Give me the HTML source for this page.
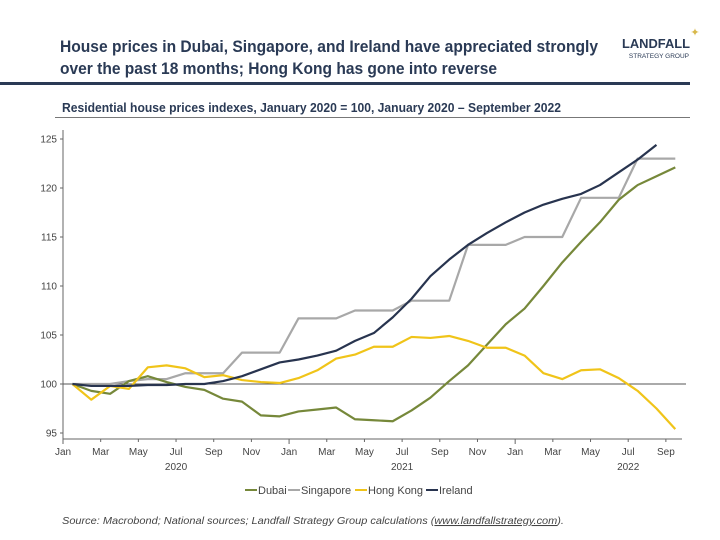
<!DOCTYPE html>
<html><head><meta charset="utf-8"><style>
body{margin:0;background:#fff;font-family:"Liberation Sans",sans-serif;}
#wrap{position:relative;width:720px;height:540px;overflow:hidden;}
</style></head><body>
<div id="wrap">
<svg id="c" width="720" height="540">
  <text x="60" y="52" font-size="16.5" font-weight="bold" fill="#2a3a55" textLength="538" lengthAdjust="spacingAndGlyphs">House prices in Dubai, Singapore, and Ireland have appreciated strongly</text>
  <text x="60" y="74" font-size="16.5" font-weight="bold" fill="#2a3a55" textLength="437" lengthAdjust="spacingAndGlyphs">over the past 18 months; Hong Kong has gone into reverse</text>
  <g>
    <text x="690" y="48" font-size="12.5" font-weight="bold" fill="#2a3a55" text-anchor="end" textLength="68" lengthAdjust="spacingAndGlyphs">LANDFALL</text>
    <text x="689" y="58" font-size="6.5" fill="#2a3a55" text-anchor="end">STRATEGY GROUP</text>
    <text x="695" y="36" font-size="11" fill="#d8b84a" text-anchor="middle">✦</text>
  </g>
  <rect x="0" y="82" width="690" height="3" fill="#2a3a55"/>
  <text x="62" y="112" font-size="12.5" font-weight="bold" fill="#2a3a55" textLength="499" lengthAdjust="spacingAndGlyphs">Residential house prices indexes, January 2020 = 100, January 2020 – September 2022</text>
  <rect x="55" y="117" width="635" height="1" fill="#777"/>
  <g id="axes"></g>
  <g id="series"></g>
  <g font-size="11" fill="#444">
    <g><rect x="245" y="489" width="12" height="2" fill="#76883a"/><text x="258" y="494">Dubai</text></g>
    <g><rect x="288" y="489" width="12" height="2" fill="#a8a8a8"/><text x="301" y="494">Singapore</text></g>
    <g><rect x="355" y="489" width="12" height="2" fill="#f0c419"/><text x="368" y="494">Hong Kong</text></g>
    <g><rect x="426" y="489" width="12" height="2" fill="#28344f"/><text x="439" y="494">Ireland</text></g>
  </g>
  <text x="62" y="524" font-size="10.5" font-style="italic" fill="#444" textLength="502" lengthAdjust="spacingAndGlyphs">Source: Macrobond; National sources; Landfall Strategy Group calculations (<tspan text-decoration="underline">www.landfallstrategy.com</tspan>).</text>
</svg>
</div>
<script>
const monthTicks=["Jan","Mar","May","Jul","Sep","Nov","Jan","Mar","May","Jul","Sep","Nov","Jan","Mar","May","Jul","Sep"];
const yearLabels=["2020","2021","2022"];
const yTicks=[95,100,105,110,115,120,125];
const dubai=[100,99.3,99.0,100.3,100.8,100.2,99.7,99.4,98.5,98.2,96.8,96.7,97.2,97.4,97.6,96.4,96.3,96.2,97.3,98.6,100.3,101.9,104.0,106.1,107.7,110.0,112.4,114.5,116.5,118.8,120.3,121.2,122.1];
const singapore=[100,100,100,100.3,100.5,100.5,101.1,101.1,101.1,103.2,103.2,103.2,106.7,106.7,106.7,107.5,107.5,107.5,108.5,108.5,108.5,114.2,114.2,114.2,115,115,115,119,119,119,123,123,123];
const hongKong=[100,98.4,99.8,99.5,101.7,101.9,101.6,100.7,100.9,100.4,100.2,100.1,100.6,101.4,102.6,103.0,103.8,103.8,104.8,104.7,104.9,104.4,103.7,103.7,102.9,101.1,100.5,101.4,101.5,100.6,99.3,97.5,95.4];
const ireland=[100,99.8,99.8,99.8,99.9,99.9,100.0,100.0,100.3,100.8,101.5,102.2,102.5,102.9,103.4,104.4,105.2,106.8,108.7,111.0,112.7,114.2,115.4,116.5,117.5,118.3,118.9,119.4,120.3,121.6,122.9,124.4];

const NS="http://www.w3.org/2000/svg";
const x0=63,pxM=18.84,yBase=384,pxU=9.8;
const xM=i=>x0+pxM*(i+0.5);
const xTick=i=>x0+pxM*i;
const yV=v=>yBase-(v-100)*pxU;
function mk(tag,attrs,parent){const e=document.createElementNS(NS,tag);for(const k in attrs)e.setAttribute(k,attrs[k]);parent.appendChild(e);return e;}
const ax=document.getElementById('axes');
const l1=mk('line',{x1:x0,y1:130,x2:x0,y2:439,stroke:'#666','stroke-width':1},ax);


const l2=mk('line',{x1:x0,y1:439,x2:682,y2:439,stroke:'#666','stroke-width':1},ax);


const l3=mk('line',{x1:x0,y1:yV(100),x2:686,y2:yV(100),stroke:'#555','stroke-width':1},ax);


yTicks.forEach(v=>{
  const t=mk('text',{x:57,y:yV(v)+3.5,'font-size':10,fill:'#444','text-anchor':'end'},ax);t.textContent=v;
  
  
  const tk=mk('line',{x1:x0-3,y1:yV(v),x2:x0,y2:yV(v),stroke:'#666'},ax);
  
  
});
monthTicks.forEach((m,k)=>{
  const x=xTick(k*2);
  const tk=mk('line',{x1:x,y1:439,x2:x,y2:k%6==0?444:442,stroke:'#666'},ax);
  
  
  const t=mk('text',{x:x,y:455,'font-size':10,fill:'#444','text-anchor':'middle'},ax);t.textContent=m;
  
  
});
yearLabels.forEach((y,k)=>{
  const t=mk('text',{x:xTick(k*12+6),y:470,'font-size':10,fill:'#444','text-anchor':'middle'},ax);t.textContent=y;
  
  
});
const sg=document.getElementById('series');
function line(data,color,name){
  const p=mk('polyline',{points:data.map((v,i)=>xM(i)+','+yV(v)).join(' '),fill:'none',stroke:color,'stroke-width':2.2,'stroke-linejoin':'round'},sg);
  
  
}
line(singapore,'#a8a8a8','line-singapore');
line(dubai,'#76883a','line-dubai');
line(hongKong,'#f0c419','line-hong-kong');
line(ireland,'#28344f','line-ireland');
</script>
</body></html>
